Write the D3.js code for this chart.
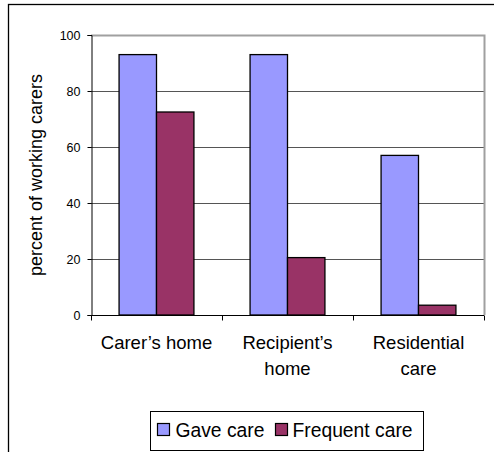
<!DOCTYPE html>
<html>
<head>
<meta charset="utf-8">
<script src="https://cdn.jsdelivr.net/npm/d3@7"></script>
<style>
  html, body { margin: 0; padding: 0; background: #fff; }
  svg { display: block; font-family: "Liberation Sans", Arial, sans-serif; }
</style>
</head>
<body>
<svg id="chart" width="494" height="452"></svg>
<script>
// Where working carers gave care, by place of care
const categories = [["Carer\u2019s home"], ["Recipient\u2019s", "home"], ["Residential", "care"]];
const seriesNames = ["Gave care", "Frequent care"];
const gaveCare = [93, 93, 57];
const frequentCare = [72.5, 20.5, 3.5];
const seriesColors = ["#9999FF", "#993366"];
const yTicks = [0, 20, 40, 60, 80, 100];
const yLabel = "percent of working carers";

const svg = d3.select("#chart");
const plot = { left: 91, right: 484, top: 35, bottom: 315 };

// Outer chart frame
svg.append("rect")
  .attr("x", 8.5).attr("y", 4.5)
  .attr("width", 500).attr("height", 460)
  .attr("fill", "#fff").attr("stroke", "#000").attr("stroke-width", 1.3);

const catKeys = categories.map(c => c.join(" "));
const x0 = d3.scaleBand().domain(catKeys).range([plot.left, plot.right]).padding(0);
const groupW = x0.bandwidth() * 2 / 3.5;
const x1 = d3.scaleBand().domain(seriesNames).range([0, groupW]).padding(0);
const y = d3.scaleLinear().domain([0, 100]).range([plot.bottom, plot.top]);

// Gridlines
svg.append("g")
  .selectAll("line")
  .data(yTicks.filter(t => t > 0 && t < 100))
  .join("line")
  .attr("x1", plot.left).attr("x2", plot.right)
  .attr("y1", d => Math.round(y(d)) + 0.5).attr("y2", d => Math.round(y(d)) + 0.5)
  .attr("stroke", "#555").attr("stroke-width", 1);

// Plot area border (top and right)
svg.append("path")
  .attr("d", `M${plot.left},${plot.top + 0.5}H${plot.right + 0.5}V${plot.bottom}`)
  .attr("fill", "none").attr("stroke", "#a0a0a0").attr("stroke-width", 2);

// Bars
const rows = catKeys.map((k, i) => ({ key: k, values: [gaveCare[i], frequentCare[i]] }));
const groups = svg.append("g").selectAll("g")
  .data(rows).join("g")
  .attr("transform", d => `translate(${x0(d.key) + (x0.bandwidth() - groupW) / 2},0)`);
groups.selectAll("rect")
  .data(d => d.values.map((v, j) => ({ name: seriesNames[j], value: v, color: seriesColors[j] })))
  .join("rect")
  .attr("x", d => x1(d.name))
  .attr("y", d => y(d.value))
  .attr("width", x1.bandwidth())
  .attr("height", d => y(0) - y(d.value))
  .attr("fill", d => d.color)
  .attr("stroke", "#000").attr("stroke-width", 1.3);

// Y axis
const yAxis = d3.axisLeft(y).tickValues(yTicks).tickSize(4).tickPadding(7);
const gy = svg.append("g").attr("transform", `translate(${plot.left + 0.5},0)`).call(yAxis);
gy.select(".domain").attr("stroke", "#000");
gy.selectAll(".tick line").attr("stroke", "#000");
gy.selectAll(".tick text")
  .attr("font-size", 12.5).attr("fill", "#000")
  .attr("font-family", "Liberation Sans, Arial, sans-serif");

// X axis with category boundary ticks
const gx = svg.append("g").attr("transform", `translate(0,${plot.bottom + 0.5})`);
gx.append("line")
  .attr("x1", plot.left).attr("x2", plot.right)
  .attr("stroke", "#000");
const bounds = catKeys.map(k => x0(k)).concat([plot.right]);
gx.selectAll("line.tk").data(bounds).join("line")
  .attr("class", "tk")
  .attr("x1", d => Math.round(d) + 0.5).attr("x2", d => Math.round(d) + 0.5)
  .attr("y1", 0).attr("y2", 5)
  .attr("stroke", "#000");

// Category labels
const labels = svg.append("g").selectAll("text")
  .data(categories).join("text")
  .attr("x", (d, i) => x0(catKeys[i]) + x0.bandwidth() / 2)
  .attr("y", 349)
  .attr("text-anchor", "middle")
  .attr("font-size", 18.5)
  .attr("fill", "#000");
labels.selectAll("tspan")
  .data(d => d).join("tspan")
  .attr("x", function () { return d3.select(this.parentNode).attr("x"); })
  .attr("dy", (d, i) => i === 0 ? 0 : 26)
  .text(d => d);

// Y axis title
svg.append("text")
  .attr("transform", `translate(42,${(plot.top + plot.bottom) / 2}) rotate(-90)`)
  .attr("text-anchor", "middle")
  .attr("font-size", 18)
  .attr("fill", "#000")
  .text(yLabel);

// Legend
const legend = svg.append("g");
legend.append("rect")
  .attr("x", 150.5).attr("y", 411.5).attr("width", 273).attr("height", 39)
  .attr("fill", "#fff").attr("stroke", "#000").attr("stroke-width", 1);
const legendX = [157, 275];
const items = legend.selectAll("g.item").data(seriesNames).join("g")
  .attr("class", "item")
  .attr("transform", (d, i) => `translate(${legendX[i]},0)`);
items.append("rect")
  .attr("x", 0.5).attr("y", 423.5).attr("width", 12).attr("height", 12)
  .attr("fill", (d, i) => seriesColors[i])
  .attr("stroke", "#000").attr("stroke-width", 1.2);
items.append("text")
  .attr("x", (d, i) => i === 0 ? 18.5 : 17.5)
  .attr("y", 437)
  .attr("font-size", 19.3)
  .attr("fill", "#000")
  .text(d => d);
</script>
</body>
</html>
